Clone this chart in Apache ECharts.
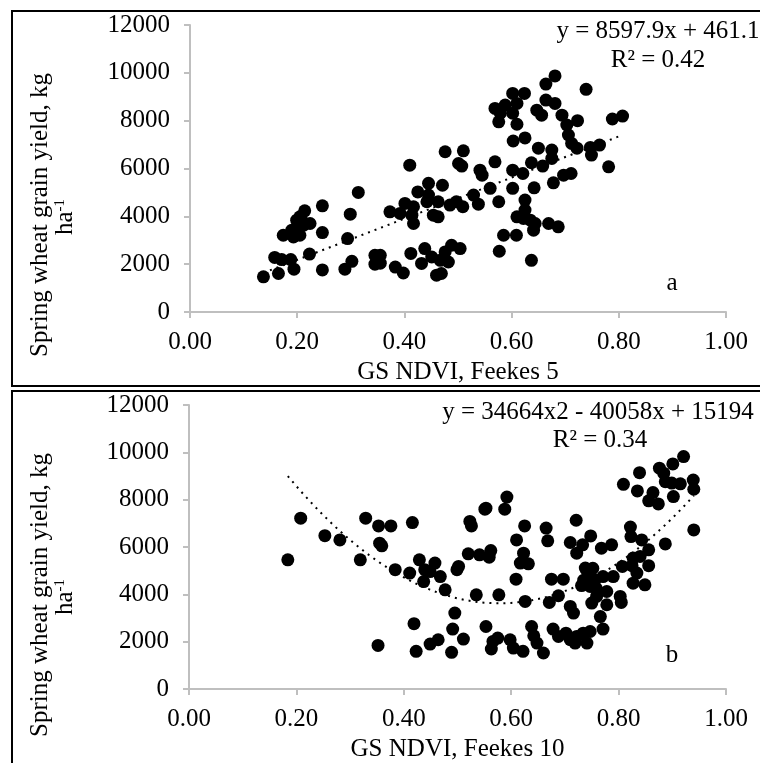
<!DOCTYPE html>
<html>
<head>
<meta charset="utf-8">
<script src="https://cdn.jsdelivr.net/npm/echarts@6/dist/echarts.min.js"></script>
<style>
  html, body { margin: 0; padding: 0; background: #fff; }
  #main { width: 760px; height: 763px; }
</style>
</head>
<body>
<div id="main"></div>
<script>
// panel a: GS NDVI at Feekes 5 vs yield
var ndviF5 = [0.137,0.165,0.158,0.171,0.188,0.194,0.223,0.247,0.289,0.302,0.294,0.299,0.314,0.247,0.247,0.345,0.345,
  0.174,0.190,0.193,0.205,0.202,0.205,0.214,0.224,0.212,0.199,0.208,
  0.373,0.392,0.401,0.417,0.414,0.417,0.410,0.425,0.445,0.445,0.442,0.463,0.454,0.463,0.471,0.476,0.510,0.501,0.507,
  0.485,0.497,0.509,0.529,0.538,0.541,0.545,0.560,0.569,0.576,0.569,0.588,0.576,0.579,0.602,0.624,0.610,0.602,0.610,
  0.603,0.625,0.602,0.621,0.602,0.637,0.642,0.625,0.625,0.610,0.622,0.635,0.644,0.641,0.669,0.687,0.585,0.609,0.577,
  0.637,0.658,0.650,0.675,0.675,0.678,0.697,0.711,0.647,0.656,0.664,0.681,0.664,0.681,0.694,0.703,0.706,0.712,0.723,
  0.739,0.722,0.747,0.749,0.764,0.781,0.788,0.807,
  0.355,0.355,0.383,0.398,0.412,0.432,0.438,0.451,0.460,0.469,0.467,0.482,0.476,0.488,0.504];
var yieldF5 = [1470,1610,2280,2190,2190,1790,2420,1760,1790,2120,3070,4090,5000,4440,3320,2370,2000,
  3210,3420,3140,3210,3700,3980,4230,3700,3630,3840,3840,
  4190,4120,4540,4400,4050,3700,6140,5020,5380,4890,4610,4610,4050,3980,5300,6700,6740,6210,6100,
  4470,4610,4400,4890,4510,5930,5720,5170,6280,4610,8510,8650,7950,8310,9140,9140,8720,8310,7850,
  7150,7280,5930,5790,5170,6240,5190,4680,4260,3980,3910,3840,3700,3420,3700,3560,3210,3210,2540,
  2160,6100,6850,6770,6420,5400,5720,5790,8440,8230,8860,8720,9530,9870,8230,7820,7400,7050,8000,
  9310,6850,6880,6560,6980,6070,8070,8190,
  2370,2040,1880,1630,2450,2030,2650,2300,1540,1610,2160,2090,2510,2790,2650];

// panel b: GS NDVI at Feekes 10 vs yield
var ndviF10 = [0.184,0.208,0.253,0.281,0.319,0.329,0.353,0.376,0.355,0.359,0.384,0.416,0.411,0.429,0.439,0.437,
  0.352,0.419,0.423,0.449,0.458,0.468,0.449,0.477,0.502,0.499,0.523,0.526,0.551,0.553,0.592,0.588,0.520,0.541,
  0.562,0.559,0.535,0.577,0.495,0.491,0.511,0.489,0.464,0.553,0.563,0.566,0.575,0.598,0.604,0.622,0.610,0.609,
  0.625,0.623,0.617,0.632,0.626,0.638,0.642,0.648,0.660,0.665,0.668,0.675,0.697,0.671,0.688,0.678,0.688,0.702,
  0.710,0.722,0.734,0.747,0.741,0.719,0.710,0.716,0.710,0.722,0.733,0.721,0.748,0.768,0.787,0.738,0.731,0.747,
  0.756,0.747,0.758,0.771,0.778,0.790,0.750,0.759,0.778,0.766,0.771,0.803,0.805,0.807,0.822,0.823,0.827,0.825,
  0.840,0.843,0.834,0.827,0.849,0.856,0.856,0.887,0.809,0.839,0.835,0.864,0.856,0.874,0.902,0.876,0.884,0.887,
  0.901,0.921,0.899,0.915,0.939,0.940,0.940,0.741,0.752,0.735];
var yieldF10 = [5460,7220,6480,6300,5460,7220,6890,6890,6160,6050,5040,7030,4900,5460,5040,4540,
  1840,2760,1590,1900,5320,4750,4960,4190,5180,5040,7080,6890,7600,7640,8110,7600,5710,5670,
  5850,5570,3980,3980,3210,2530,2110,1550,2080,2640,1690,2010,2150,2080,1730,1590,6300,4640,
  6890,5740,5320,5290,3700,2640,2250,1940,1520,6800,6260,4640,4640,3660,3940,2530,2220,2360,
  2080,2220,2360,2430,1940,1940,3490,3210,6190,5740,6090,7130,6470,5950,6090,5110,4370,4820,
  4610,4330,4260,4750,4120,4750,3630,3910,3560,3060,2530,3910,3660,5180,6840,6440,5530,5210,
  5600,6300,4900,4470,4400,5880,5210,6130,8650,9140,8370,8300,7950,7820,8130,9330,9120,8760,
  9510,9820,8700,8670,8830,8440,6720,5010,5100,4600];

// trendline coefficients as printed on the chart (highest power first)
var fitF5 = [8597.9, 461.1];
var fitF10 = [34664, -40058, 15194];

function pairs(xs, ys) {
    return xs.map(function (x, i) { return [x, ys[i]]; });
}
function polyVal(c, x) {
    var v = 0;
    for (var i = 0; i < c.length; i++) v = v * x + c[i];
    return v;
}
function trend(c, xs, steps) {
    var lo = Math.min.apply(null, xs), hi = Math.max.apply(null, xs), out = [];
    for (var i = 0; i <= steps; i++) {
        var x = lo + (hi - lo) * i / steps;
        out.push([x, polyVal(c, x)]);
    }
    return out;
}

var FONT = 'Liberation Serif';
var FS = 25;
var axisGray = '#bfbfbf';

function xAx(idx, name) {
    return {
        gridIndex: idx, type: 'value', min: 0, max: 1, interval: 0.2,
        name: name, nameLocation: 'middle', nameGap: 48,
        nameTextStyle: { fontFamily: FONT, fontSize: FS, color: '#000' },
        axisLine: { lineStyle: { color: axisGray, width: 2 } },
        axisTick: { show: true, length: 6, lineStyle: { color: axisGray, width: 2 } },
        axisLabel: { fontFamily: FONT, fontSize: FS, color: '#000', margin: 18,
            formatter: function (v) { return v.toFixed(2); } },
        splitLine: { show: false }
    };
}
function yAx(idx) {
    return {
        gridIndex: idx, type: 'value', min: 0, max: 12000, interval: 2000,
        axisLine: { show: true, lineStyle: { color: axisGray, width: 2 } },
        axisTick: { show: true, length: 6, lineStyle: { color: axisGray, width: 2 } },
        axisLabel: { fontFamily: FONT, fontSize: FS, color: '#000', margin: 20,
            formatter: function (v) { return String(v); } },
        splitLine: { show: false }
    };
}
function label(x, y, txt) {
    return { type: 'text', x: x, y: y, z: 10,
        style: { text: txt, font: FS + 'px "' + FONT + '"', fill: '#000',
            textAlign: 'center', textVerticalAlign: 'middle', align: 'center', verticalAlign: 'middle' } };
}
function yTitle(cy) {
    return [
        { type: 'text', x: 40, y: cy, rotation: Math.PI / 2,
          style: { text: 'Spring wheat grain yield, kg', font: FS + 'px "' + FONT + '"', fill: '#000',
            textAlign: 'center', textVerticalAlign: 'middle', align: 'center', verticalAlign: 'middle' } },
        { type: 'text', x: 65, y: cy + 2, rotation: Math.PI / 2,
          style: { text: '{b|ha}{s|-1}', fill: '#000', textAlign: 'center', textVerticalAlign: 'middle',
            align: 'center', verticalAlign: 'middle',
            rich: { b: { fontFamily: FONT, fontSize: FS, fill: '#000' },
                    s: { fontFamily: FONT, fontSize: 15, fill: '#000', verticalAlign: 'top' } } } }
    ];
}

var myChart = echarts.init(document.getElementById('main'));

var option = {
    backgroundColor: '#fff',
    animation: false,
    grid: [
        { left: 190, top: 25, width: 536, height: 287 },
        { left: 189, top: 405, width: 537, height: 284 }
    ],
    xAxis: [xAx(0, 'GS NDVI, Feekes 5'), xAx(1, 'GS NDVI, Feekes 10')],
    yAxis: [yAx(0), yAx(1)],
    series: [
        { type: 'scatter', xAxisIndex: 0, yAxisIndex: 0, data: pairs(ndviF5, yieldF5),
          symbol: 'circle', symbolSize: 13, itemStyle: { color: '#000', opacity: 1 } },
        { type: 'line', xAxisIndex: 0, yAxisIndex: 0, data: trend(fitF5, ndviF5, 1),
          showSymbol: false, lineStyle: { color: '#000', width: 2, type: [2, 5] }, z: 3 },
        { type: 'scatter', xAxisIndex: 1, yAxisIndex: 1, data: pairs(ndviF10, yieldF10),
          symbol: 'circle', symbolSize: 13, itemStyle: { color: '#000', opacity: 1 } },
        { type: 'line', xAxisIndex: 1, yAxisIndex: 1, data: trend(fitF10, ndviF10, 60),
          showSymbol: false, lineStyle: { color: '#000', width: 2, type: [2, 5] }, z: 3 }
    ],
    graphic: [
        { type: 'rect', shape: { x: 12, y: 11, width: 800, height: 375 },
          style: { fill: null, stroke: '#000', lineWidth: 2 } },
        { type: 'rect', shape: { x: 12, y: 391, width: 800, height: 420 },
          style: { fill: null, stroke: '#000', lineWidth: 2 } },
        label(658, 31, 'y = 8597.9x + 461.1'),
        label(658, 60, 'R\u00b2 = 0.42'),
        label(672, 283, 'a'),
        label(598, 412, 'y = 34664x2 - 40058x + 15194'),
        label(600, 440, 'R\u00b2 = 0.34'),
        label(672, 655, 'b')
    ].concat(yTitle(215), yTitle(595))
};

myChart.setOption(option);
</script>
</body>
</html>
